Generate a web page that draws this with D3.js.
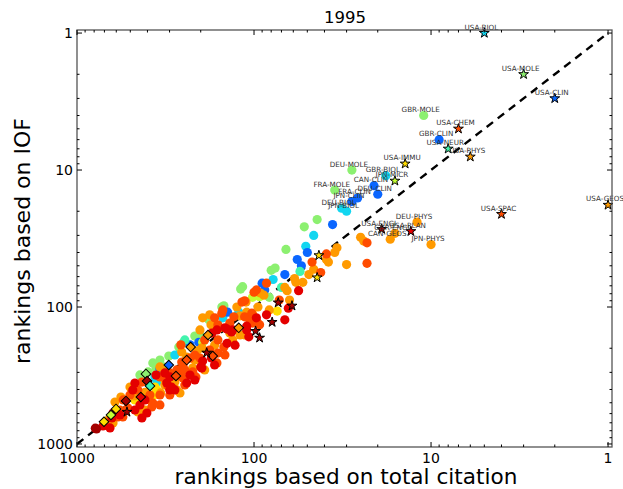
<!DOCTYPE html>
<html>
<head>
<meta charset="utf-8">
<script src="https://cdn.jsdelivr.net/npm/d3@7"></script>
<style>
  body { margin: 0; background: #fff; }
  svg { display: block; font-family: "DejaVu Sans", sans-serif; }
</style>
</head>
<body>
<svg id="chart" width="623" height="489"></svg>
<script>
// Rank of each country-field pair: [rank by total citation, rank by IOF]
const titleText = "1995";
const xLabelText = "rankings based on total citation";
const yLabelText = "rankings based on IOF";
const majorTicks = [1000, 100, 10, 1];
const majorTickLabels = ["1000", "100", "10", "1"];

const palette = {
  DR: "#a50000", R: "#e40000", OR: "#ff4c00", O: "#ff9a00", Y: "#ffdd00",
  YG: "#c4ff34", LG: "#8cf070", AQ: "#42f4ae", C: "#12d6f0", B: "#0a66ff"
};

const lightGreenPts = [[44,23],[52,26],[66,38],[80,54],[76,52],[116,71],[119,74],[82,85],[152,100],[148,98],
  [180,124],[216,163],[266,196],[303,228],[326,274],[373,256],[358,279],[396,298],[252,183],
  [441,313],[340,244],[202,160]];
const cyanPts = [[46,30],[51,36],[78,63],[122,109],[363,324],[354,353],[150,120],[280,224],[167,135]];
const bluePts = [[36,25],[50,40],[57,45],[54,50],[67,58],[90,67],[87,75],[141,109],[205,181],[340,283],
  [230,189]];
const aquaPts = [[55,55],[70,72],[246,174]];
const yellowGreenPts = [[93,84],[102,85],[195,181]];
const yellowPts = [[74,107],[354,403],[368,439],[471,477],[363,384],[319,341]];
const orangePts = [[34,37],[35,40],[39,45],[38,47],[30,49],[46,53],[49,58],[59,62],[58,66],[53,66],
  [67,72],[65,76],[63,89],[92,79],[88,82],[111,92],[95,100],[102,112],[125,100],[120,116],
  [110,109],[195,120],[178,114],[137,155],[132,174],[120,160],[197,199],[210,209],[256,213],[240,232],
  [216,244],[222,279],[262,424],[273,403],[502,384],[476,446],[413,565],[453,584],[565,454],[610,494],
  [667,668],[626,702],[175,135],[156,142],[340,274],[319,298],[337,424],[280,353],[413,420],[167,190],
  [202,147],[25,31],[24,33],[319,371],[190,288],[113,160],[82,105],[387,477]];
const orangeRedPts = [[39,41],[47,47],[23,48],[42,56],[85,67],[97,75],[100,78],[150,105],[117,92],[113,90],
  [130,118],[113,118],[108,120],[103,111],[102,131],[96,129],[167,120],[160,135],[152,111],[137,131],
  [160,174],[148,196],[160,217],[162,256],[178,206],[173,232],[256,252],[252,265],[273,288],[222,298],
  [213,324],[259,189],[262,319],[252,330],[340,324],[319,330],[299,303],[453,403],[430,353],[373,502],
  [378,537],[340,519],[587,635],[551,635],[695,702],[23,34],[216,224],[202,236],[230,236],[246,288],
  [306,377],[387,439],[516,546],[548,477],[190,174],[502,439],[340,439],[246,371],[146,224],[93,135],
  [72,89],[572,565],[299,439]];
const redPts = [[56,76],[64,102],[85,114],[110,138],[107,165],[97,120],[110,147],[142,145],[132,147],[146,142],
  [173,155],[162,147],[195,248],[197,279],[142,184],[319,303],[299,324],[358,314],[200,274],[240,359],
  [299,403],[311,359],[471,359],[484,403],[403,594],[430,646],[626,594],[635,646],[651,764],[713,739],
  [134,152],[174,236],[292,385],[572,614],[230,314],[441,519],[413,477],[280,403],[216,341],[167,265],
  [128,190],[67,124],[471,565]];
const darkRedPts = [[776,777],[788,767]];

// Named circles: [name, citation rank, IOF rank, colour]
const namedCircles = [
  ["GBR-MOLE", 11, 4, "LG"], ["GBR-CLIN", 9, 6, "B"], ["DEU-MOLE", 28, 10, "LG"],
  ["GBR-BIOL", 18, 11, "C"], ["CAN-CLIN", 21, 13, "B"], ["DEU-CLIN", 20, 15, "B"],
  ["FRA-MOLE", 35, 14, "LG"], ["FRA-CLIN", 26, 16, "B"], ["JPN-CLIN", 28, 17, "B"],
  ["DEU-BIOL", 32, 19, "C"], ["JPN-BIOL", 30, 20, "C"], ["DEU-PHYS", 12, 24, "O"],
  ["GBR-ENGI", 16, 29, "O"], ["CAN-GEOS", 17, 32, "O"], ["JPN-PHYS", 10, 35, "O"]
];

// Star markers: [name, citation rank, IOF rank, colour]
const starPts = [
  ["USA-BIOL", 5, 1, "C"], ["USA-MOLE", 3, 2, "LG"], ["USA-CLIN", 2, 3, "B"],
  ["USA-CHEM", 7, 5, "OR"], ["USA-NEUR", 8, 7, "AQ"], ["USA-PHYS", 6, 8, "O"],
  ["USA-IMMU", 14, 9, "Y"], ["JPN-MICR", 16, 12, "YG"], ["USA-GEOS", 1, 18, "O"],
  ["USA-SPAC", 4, 21, "OR"], ["USA-ENGI", 19, 27, "DR"], ["USA-PLAN", 13, 28, "R"],
  ["", 43, 42, "Y"], ["", 44, 61, "Y"], ["", 73, 93, "DR"], ["", 61, 98, "DR"],
  ["", 79, 129, "DR"], ["", 98, 150, "DR"], ["", 93, 168, "DR"], ["", 185, 216, "DR"],
  ["", 522, 584, "DR"]
];

// Diamond markers: [citation rank, IOF rank, colour]
const diamondPts = [
  [182,160,"O"],[122,142,"O"],[228,196,"O"],[171,228,"OR"],[240,244,"OR"],[303,265,"B"],
  [276,319,"OR"],[408,308,"LG"],[402,347,"DR"],[387,377,"AQ"],[436,454,"R"],[529,485,"DR"],
  [602,555,"Y"],[643,614,"YG"],[704,688,"Y"]
];

const svg = d3.select("#chart");
const x = d3.scaleLog().domain([1000, 0.95]).range([77, 612]);
const y = d3.scaleLog().domain([0.95, 1052]).range([30, 447]);
const [x0, x1] = x.range();
const [y0, y1] = y.range();

// Diagonal reference line (equal ranks)
svg.append("line")
  .attr("x1", x(1000)).attr("y1", y(1000))
  .attr("x2", x(1)).attr("y2", y(1))
  .attr("stroke", "#000").attr("stroke-width", 2.4)
  .attr("stroke-dasharray", "8,6");

const plot = svg.append("g");
const circleGroups = [
  [lightGreenPts, "LG"], [cyanPts, "C"], [bluePts, "B"], [aquaPts, "AQ"], [yellowGreenPts, "YG"],
  [yellowPts, "Y"], [orangePts, "O"], [orangeRedPts, "OR"], [redPts, "R"], [darkRedPts, "DR"]
];
circleGroups.forEach(([pts, key]) => {
  plot.selectAll(null).data(pts).enter().append("circle")
    .attr("cx", d => x(d[0])).attr("cy", d => y(d[1])).attr("r", 4.6)
    .attr("fill", palette[key]);
});
plot.selectAll(null).data(namedCircles).enter().append("circle")
  .attr("cx", d => x(d[1])).attr("cy", d => y(d[2])).attr("r", 4.6)
  .attr("fill", d => palette[d[3]]);

const diamond = d3.symbol().type(d3.symbolSquare).size(46);
plot.selectAll(null).data(diamondPts).enter().append("path")
  .attr("d", diamond)
  .attr("transform", d => `translate(${x(d[0])},${y(d[1])}) rotate(45)`)
  .attr("fill", d => palette[d[2]]).attr("stroke", "#000").attr("stroke-width", 1);

const star = d3.symbol().type(d3.symbolStar).size(30);
plot.selectAll(null).data(starPts).enter().append("path")
  .attr("d", star)
  .attr("transform", d => `translate(${x(d[1])},${y(d[2])})`)
  .attr("fill", d => palette[d[3]]).attr("stroke", "#000").attr("stroke-width", 1);

// Point names
const named = namedCircles.concat(starPts.filter(d => d[0]));
plot.selectAll(null).data(named).enter().append("text")
  .attr("x", d => x(d[1]) - 3).attr("y", d => y(d[2]) - 3.5)
  .attr("text-anchor", "middle").attr("font-size", 7.2).attr("fill", "#333")
  .text(d => d[0]);

// Frame
svg.append("rect").attr("x", x0).attr("y", y0).attr("width", x1 - x0).attr("height", y1 - y0)
  .attr("fill", "none").attr("stroke", "#555").attr("stroke-width", 1.3);

// Ticks (inward, on all four sides)
const minorTicks = [];
[1, 10, 100].forEach(b => { for (let k = 2; k <= 9; k++) minorTicks.push(b * k); });
const ticks = svg.append("g").attr("stroke", "#000").attr("stroke-width", 1);
function addTicks(vals, len) {
  vals.forEach(v => {
    ticks.append("line").attr("x1", x(v)).attr("x2", x(v)).attr("y1", y1).attr("y2", y1 - len);
    ticks.append("line").attr("x1", x(v)).attr("x2", x(v)).attr("y1", y0).attr("y2", y0 + len);
    ticks.append("line").attr("y1", y(v)).attr("y2", y(v)).attr("x1", x0).attr("x2", x0 + len);
    ticks.append("line").attr("y1", y(v)).attr("y2", y(v)).attr("x1", x1).attr("x2", x1 - len);
  });
}
addTicks(majorTicks, 5);
addTicks(minorTicks, 2.5);

// Tick labels
svg.selectAll(null).data(majorTicks).enter().append("text")
  .attr("x", d => x(d)).attr("y", 463).attr("text-anchor", "middle")
  .attr("font-size", 14).attr("fill", "#000")
  .text((d, i) => majorTickLabels[i]);
svg.selectAll(null).data(majorTicks).enter().append("text")
  .attr("x", 73).attr("y", d => y(d) + 5).attr("text-anchor", "end")
  .attr("font-size", 14).attr("fill", "#000")
  .text((d, i) => majorTickLabels[i]);

// Title and axis titles
svg.append("text").attr("x", 345).attr("y", 23).attr("text-anchor", "middle")
  .attr("font-size", 16.5).attr("fill", "#000").text(titleText);
svg.append("text").attr("x", 346).attr("y", 484).attr("text-anchor", "middle")
  .attr("font-size", 21.6).attr("fill", "#000").text(xLabelText);
svg.append("text").attr("transform", "translate(30,241) rotate(-90)").attr("text-anchor", "middle")
  .attr("font-size", 22).attr("fill", "#000").text(yLabelText);
</script>
</body>
</html>
